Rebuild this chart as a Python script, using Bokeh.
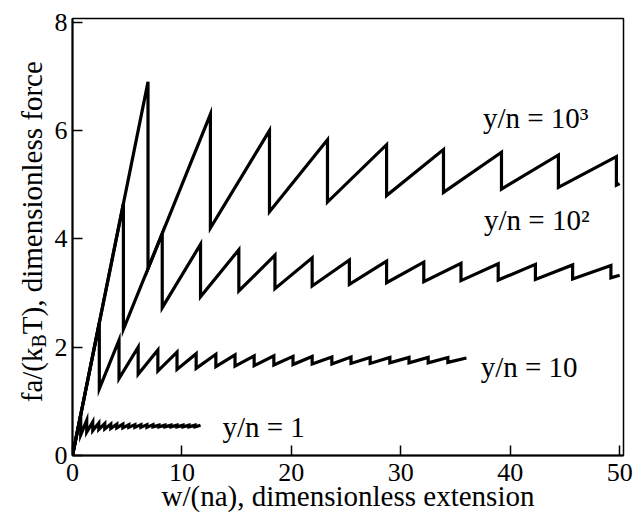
from bokeh.plotting import figure
from bokeh.layouts import row
from bokeh.models import Label, Range1d, FixedTicker
from bokeh.embed import file_html
from bokeh.resources import INLINE

# ---- data (break points, peak force, force after drop) ----
# y/n = 10^3
brk_1000 = [6.9, 12.6, 18.0, 23.3, 28.7, 33.9, 39.2, 44.4, 49.7]
peak_1000 = [6.9, 6.3, 6.0, 5.83, 5.74, 5.65, 5.6, 5.55, 5.52]
low_1000 = [3.45, 4.2, 4.5, 4.68, 4.8, 4.86, 4.92, 4.95, 4.99]
end_1000 = [50.0, 5.02]

# y/n = 10^2
brk_100 = [4.65, 8.2, 11.7, 15.2, 18.5, 21.9, 25.3, 28.7, 32.1, 35.5, 38.9, 42.3, 45.7, 49.2]
peak_100 = [4.65, 4.1, 3.9, 3.8, 3.7, 3.65, 3.61, 3.59, 3.57, 3.55, 3.54, 3.53, 3.52, 3.51]
low_100 = [2.33, 2.73, 2.93, 3.04, 3.08, 3.13, 3.16, 3.19, 3.21, 3.23, 3.24, 3.25, 3.26, 3.28]
end_100 = [50.0, 3.33]

# y/n = 10
brk_10 = [2.45, 4.25, 6.0, 7.8, 9.55, 11.3, 13.1, 14.85, 16.6, 18.4, 20.15, 21.9, 23.7,
          25.45, 27.2, 29.0, 30.75, 32.5, 34.3]
peak_10 = [2.45, 2.13, 2.0, 1.95, 1.91, 1.88, 1.87, 1.86, 1.84, 1.84, 1.83, 1.83, 1.82,
           1.82, 1.81, 1.81, 1.81, 1.81, 1.81]
low_10 = [1.23, 1.42, 1.5, 1.56, 1.59, 1.61, 1.64, 1.65, 1.66, 1.67, 1.68, 1.69, 1.69,
          1.7, 1.7, 1.71, 1.71, 1.71, 1.72]
end_10 = [36.0, 1.8]

# y/n = 1
brk_1 = [0.75, 1.3, 1.85, 2.4, 2.95, 3.5, 4.05, 4.6, 5.15, 5.7, 6.25, 6.8, 7.35, 7.9,
         8.45, 9.0, 9.55, 10.1, 10.65, 11.2]
peak_1 = [0.75, 0.65, 0.62, 0.6, 0.59, 0.58, 0.58, 0.58, 0.57, 0.57, 0.57, 0.57, 0.57,
          0.56, 0.56, 0.56, 0.56, 0.56, 0.56, 0.56]
low_1 = [0.38, 0.43, 0.46, 0.48, 0.49, 0.5, 0.51, 0.51, 0.52, 0.52, 0.52, 0.52, 0.53,
         0.53, 0.53, 0.53, 0.53, 0.53, 0.53, 0.53]
end_1 = [11.7, 0.56]

x_ticks = [0, 10, 20, 30, 40, 50]
y_ticks = [0, 2, 4, 6, 8]

curve_labels = ["y/n = 10\u00b3", "y/n = 10\u00b2", "y/n = 10", "y/n = 1"]
x_title = "w/(na), dimensionless extension"
y_title_parts = ["fa/(k", "B", "T), dimensionless force"]

FONT = "Liberation Serif"


def sawtooth(brk, peak, low, end):
    xs, ys = [0.0], [0.0]
    for b, pk, lo in zip(brk, peak, low):
        xs += [b, b]
        ys += [pk, lo]
    xs.append(end[0])
    ys.append(end[1])
    return xs, ys


# ---------------- main plot ----------------
p = figure(width=586, height=517, output_backend="svg", toolbar_location=None,
           x_range=Range1d(0, 50.35), y_range=Range1d(0, 8.07),
           min_border_left=22, min_border_right=13, min_border_top=18, min_border_bottom=62)

p.grid.visible = False
p.background_fill_color = "white"
p.border_fill_color = "white"
p.outline_line_color = "black"
p.outline_line_width = 1.5

for ax in (p.xaxis[0], p.yaxis[0]):
    ax.axis_line_width = 2
    ax.axis_line_color = "black"
    ax.major_tick_in = 10
    ax.major_tick_out = 0
    ax.major_tick_line_width = 1.5
    ax.minor_tick_line_color = None
    ax.major_label_text_font = FONT
    ax.major_label_text_font_size = "26px"
    ax.major_label_text_color = "black"

p.xaxis[0].ticker = FixedTicker(ticks=x_ticks)
p.yaxis[0].ticker = FixedTicker(ticks=y_ticks)
p.xaxis[0].major_label_standoff = 8
p.yaxis[0].major_label_standoff = 5

p.xaxis[0].axis_label = x_title
p.xaxis[0].axis_label_text_font = FONT
p.xaxis[0].axis_label_text_font_size = "29px"
p.xaxis[0].axis_label_text_font_style = "normal"
p.xaxis[0].axis_label_text_color = "black"
p.xaxis[0].axis_label_standoff = -4

for brk, pk, lo, end in [(brk_1000, peak_1000, low_1000, end_1000),
                         (brk_100, peak_100, low_100, end_100),
                         (brk_10, peak_10, low_10, end_10),
                         (brk_1, peak_1, low_1, end_1)]:
    xs, ys = sawtooth(brk, pk, lo, end)
    p.line(xs, ys, line_color="black", line_width=3.2, line_join="miter")

# curve annotations
label_pos = [(37.5, 6.23), (37.6, 4.34), (37.3, 1.63), (13.7, 0.52)]
for txt, (lx, ly) in zip(curve_labels, label_pos):
    p.add_layout(Label(x=lx, y=ly, text=txt, text_font=FONT, text_font_size="29px",
                       text_color="black", text_baseline="alphabetic", text_align="left"))

# ---------------- y-axis title panel ----------------
# The row aligns this panel's frame with the main frame (page y 18..455),
# so the range is chosen to keep data y = 517 - page y.
lf = figure(width=50, height=517, output_backend="svg", toolbar_location=None,
            x_range=Range1d(0, 50), y_range=Range1d(62, 499),
            min_border_left=0, min_border_right=0, min_border_top=18, min_border_bottom=62)
lf.axis.visible = False
lf.grid.visible = False
lf.outline_line_color = None
lf.background_fill_color = "white"
lf.border_fill_color = "white"

ang = 1.5707963
lf.add_layout(Label(x=31.5, y=170, text=y_title_parts[0], angle=ang, text_font=FONT,
                    text_font_size="29px", text_color="black",
                    text_align="right", text_baseline="alphabetic"))
lf.add_layout(Label(x=38, y=170, text=y_title_parts[1], angle=ang, text_font=FONT,
                    text_font_size="20px", text_color="black",
                    text_align="left", text_baseline="alphabetic"))
lf.add_layout(Label(x=31.5, y=183.3, text=y_title_parts[2], angle=ang, text_font=FONT,
                    text_font_size="29px", text_color="black",
                    text_align="left", text_baseline="alphabetic"))

layout = row(lf, p)
open("out.html", "w").write(file_html(layout, INLINE))
